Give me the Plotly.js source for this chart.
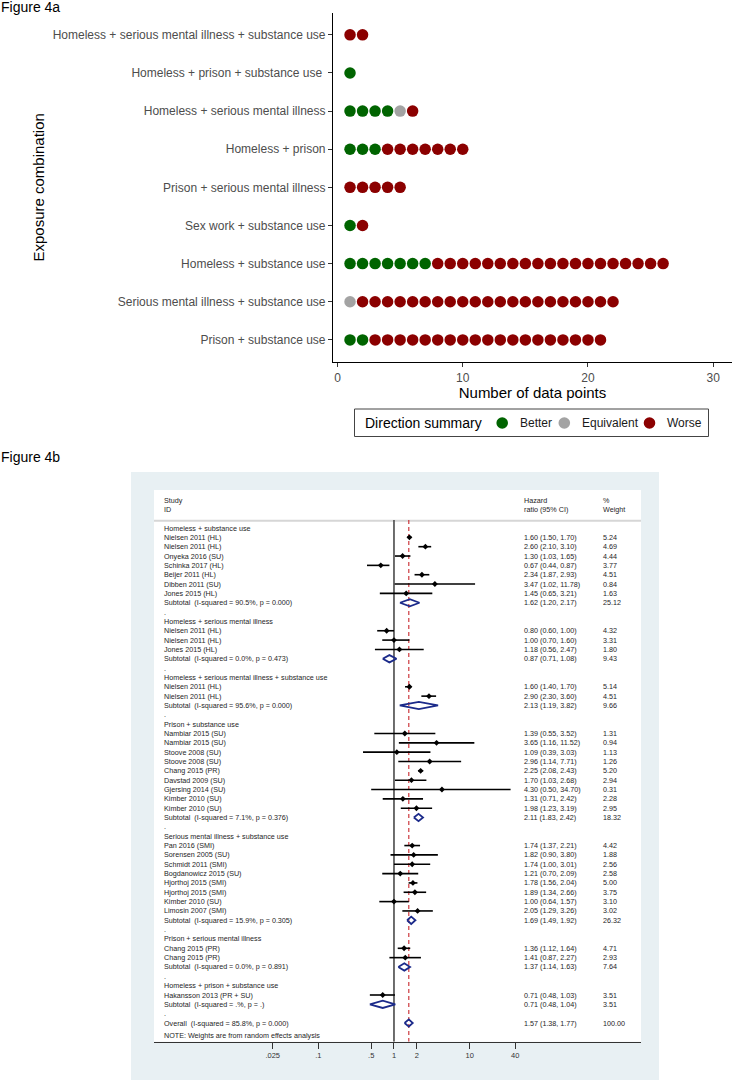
<!DOCTYPE html>
<html><head><meta charset="utf-8">
<script src="https://cdn.plot.ly/plotly-3.0.1.min.js"></script>
<style>html,body{margin:0;padding:0;background:#fff;} #chart{width:732px;height:1084px;}</style>
</head><body><div id="chart"></div>
<script>
// ---------- Figure 4a data ----------
const exposureCombos = [
  'Prison + substance use',
  'Serious mental illness + substance use',
  'Homeless + substance use',
  'Sex work + substance use',
  'Prison + serious mental illness',
  'Homeless + prison',
  'Homeless + serious mental illness',
  'Homeless + prison + substance use\u00a0',
  'Homeless + serious mental illness + substance use'
];
const betterCounts     = [2, 0, 7, 1, 0, 3, 4, 1, 0];
const equivalentCounts = [0, 1, 0, 0, 0, 0, 1, 0, 0];
const worseCounts      = [19, 21, 19, 1, 5, 7, 1, 0, 2];
const directionNames   = ['Better', 'Equivalent', 'Worse'];
const directionColors  = ['#006400', '#a3a3a3', '#8b0000'];
const xTickVals4a      = [0, 10, 20, 30];

// ---------- Figure 4b data ----------
const rowLabel = [
  'Homeless + substance use',
  'Nielsen 2011 (HL)', 'Nielsen 2011 (HL)', 'Onyeka 2016 (SU)', 'Schinka 2017 (HL)',
  'Beijer 2011 (HL)', 'Dibben 2011 (SU)', 'Jones 2015 (HL)',
  'Subtotal\u00a0 (I-squared = 90.5%, p = 0.000)', '.',
  'Homeless + serious mental illness',
  'Nielsen 2011 (HL)', 'Nielsen 2011 (HL)', 'Jones 2015 (HL)',
  'Subtotal\u00a0 (I-squared = 0.0%, p = 0.473)', '.',
  'Homeless + serious mental illness + substance use',
  'Nielsen 2011 (HL)', 'Nielsen 2011 (HL)',
  'Subtotal\u00a0 (I-squared = 95.6%, p = 0.000)', '.',
  'Prison + substance use',
  'Nambiar 2015 (SU)', 'Nambiar 2015 (SU)', 'Stoove 2008 (SU)', 'Stoove 2008 (SU)',
  'Chang 2015 (PR)', 'Davstad 2009 (SU)', 'Gjersing 2014 (SU)', 'Kimber 2010 (SU)', 'Kimber 2010 (SU)',
  'Subtotal\u00a0 (I-squared = 7.1%, p = 0.376)', '.',
  'Serious mental illness + substance use',
  'Pan 2016 (SMI)', 'Sorensen 2005 (SU)', 'Schmidt 2011 (SMI)', 'Bogdanowicz 2015 (SU)',
  'Hjorthoj 2015 (SMI)', 'Hjorthoj 2015 (SMI)', 'Kimber 2010 (SU)', 'Limosin 2007 (SMI)',
  'Subtotal\u00a0 (I-squared = 15.9%, p = 0.305)', '.',
  'Prison + serious mental illness',
  'Chang 2015 (PR)', 'Chang 2015 (PR)',
  'Subtotal\u00a0 (I-squared = 0.0%, p = 0.891)', '.',
  'Homeless + prison + substance use',
  'Hakansson 2013 (PR + SU)',
  'Subtotal\u00a0 (I-squared = .%, p = .)', '.',
  'Overall\u00a0 (I-squared = 85.8%, p = 0.000)',
  'NOTE: Weights are from random effects analysis'
];
// g = group heading, s = study, t = subtotal, d = separator, o = overall, n = note
const rowKind = [
  'g','s','s','s','s','s','s','s','t','d',
  'g','s','s','s','t','d',
  'g','s','s','t','d',
  'g','s','s','s','s','s','s','s','s','s','t','d',
  'g','s','s','s','s','s','s','s','s','t','d',
  'g','s','s','t','d',
  'g','s','t','d',
  'o','n'
];
const rowHR = [
  null, 1.60, 2.60, 1.30, 0.67, 2.34, 3.47, 1.45, 1.62, null,
  null, 0.80, 1.00, 1.18, 0.87, null,
  null, 1.60, 2.90, 2.13, null,
  null, 1.39, 3.65, 1.09, 2.96, 2.25, 1.70, 4.30, 1.31, 1.98, 2.11, null,
  null, 1.74, 1.82, 1.74, 1.21, 1.78, 1.89, 1.00, 2.05, 1.69, null,
  null, 1.36, 1.41, 1.37, null,
  null, 0.71, 0.71, null,
  1.57, null
];
const rowLo = [
  null, 1.50, 2.10, 1.03, 0.44, 1.87, 1.02, 0.65, 1.20, null,
  null, 0.60, 0.70, 0.56, 0.71, null,
  null, 1.40, 2.30, 1.19, null,
  null, 0.55, 1.16, 0.39, 1.14, 2.08, 1.03, 0.50, 0.71, 1.23, 1.83, null,
  null, 1.37, 0.90, 1.00, 0.70, 1.56, 1.34, 0.64, 1.29, 1.49, null,
  null, 1.12, 0.87, 1.14, null,
  null, 0.48, 0.48, null,
  1.38, null
];
const rowHi = [
  null, 1.70, 3.10, 1.65, 0.87, 2.93, 11.78, 3.21, 2.17, null,
  null, 1.00, 1.60, 2.47, 1.08, null,
  null, 1.70, 3.60, 3.82, null,
  null, 3.52, 11.52, 3.03, 7.71, 2.43, 2.68, 34.70, 2.42, 3.19, 2.42, null,
  null, 2.21, 3.80, 3.01, 2.09, 2.04, 2.66, 1.57, 3.26, 1.92, null,
  null, 1.64, 2.27, 1.63, null,
  null, 1.03, 1.04, null,
  1.77, null
];
const rowWeight = [
  null, 5.24, 4.69, 4.44, 3.77, 4.51, 0.84, 1.63, 25.12, null,
  null, 4.32, 3.31, 1.80, 9.43, null,
  null, 5.14, 4.51, 9.66, null,
  null, 1.31, 0.94, 1.13, 1.26, 5.20, 2.94, 0.31, 2.28, 2.95, 18.32, null,
  null, 4.42, 1.88, 2.56, 2.58, 5.00, 3.75, 3.10, 3.02, 26.32, null,
  null, 4.71, 2.93, 7.64, null,
  null, 3.51, 3.51, null,
  100.00, null
];
const hrTickVals   = [0.025, 0.1, 0.5, 1, 2, 10, 40];
const hrTickLabels = ['.025', '.1', '.5', '1', '2', '10', '40'];

// ---------- helpers (layout in pixels) ----------
const W = 732, H = 1084;
const px = v => v / W;
const py = v => 1 - v / H;
const FONT = 'Liberation Sans, Arial, Helvetica, sans-serif';

// ---------- Figure 4a traces ----------
const countSets = [betterCounts, equivalentCounts, worseCounts];
const traces = [];
directionNames.forEach((name, d) => {
  const xs = [], ys = [];
  exposureCombos.forEach((cat, i) => {
    let start = 0;
    for (let k = 0; k < d; k++) start += countSets[k][i];
    for (let j = 1; j <= countSets[d][i]; j++) { xs.push(start + j); ys.push(cat); }
  });
  traces.push({
    type: 'scatter', mode: 'markers', name: name, x: xs, y: ys,
    xaxis: 'x', yaxis: 'y', showlegend: false, hoverinfo: 'skip',
    marker: { size: 11.5, color: directionColors[d], line: { width: 0 } }
  });
});

// ---------- Figure 4b traces ----------
const rowY = rowKind.map((k, i) => (k === 'n' ? i + 1.35 : i + 1));
const overallIdx = rowKind.indexOf('o');
const overallHR = rowHR[overallIdx];
const topRow = 0.15, bottomRow = 56.0;

traces.push({ type: 'scatter', mode: 'lines', x: [1, 1], y: [topRow, bottomRow],
  xaxis: 'x2', yaxis: 'y2', showlegend: false, hoverinfo: 'skip',
  line: { color: '#4a4a4a', width: 1.6 } });
traces.push({ type: 'scatter', mode: 'lines', x: [overallHR, overallHR], y: [topRow, bottomRow],
  xaxis: 'x2', yaxis: 'y2', showlegend: false, hoverinfo: 'skip',
  line: { color: '#c8282d', width: 1.1, dash: '4px,3px' } });

const ciX = [], ciY = [], ptX = [], ptY = [], dmX = [], dmY = [];
const dh = 0.39;
rowKind.forEach((k, i) => {
  const y = rowY[i];
  if (k === 's') {
    ciX.push(rowLo[i], rowHi[i], null); ciY.push(y, y, null);
    ptX.push(rowHR[i]); ptY.push(y);
  } else if (k === 't' || k === 'o') {
    dmX.push(rowLo[i], rowHR[i], rowHi[i], rowHR[i], rowLo[i], null);
    dmY.push(y, y - dh, y, y + dh, y, null);
  }
});
traces.push({ type: 'scatter', mode: 'lines', x: ciX, y: ciY, xaxis: 'x2', yaxis: 'y2',
  showlegend: false, hoverinfo: 'skip', connectgaps: false, line: { color: '#000', width: 1.6 } });
traces.push({ type: 'scatter', mode: 'markers', x: ptX, y: ptY, xaxis: 'x2', yaxis: 'y2',
  showlegend: false, hoverinfo: 'skip', marker: { symbol: 'diamond', size: 4.5, color: '#000' } });
traces.push({ type: 'scatter', mode: 'lines', x: dmX, y: dmY, xaxis: 'x2', yaxis: 'y2',
  showlegend: false, hoverinfo: 'skip', connectgaps: false, line: { color: '#1b2a8a', width: 1.8 } });

// ---------- annotations ----------
const annotations = [];
function paperText(text, x, y, size, color, extra) {
  annotations.push(Object.assign({ text: text, x: px(x), y: py(y), xref: 'paper', yref: 'paper',
    xanchor: 'left', yanchor: 'middle', showarrow: false, borderpad: 0,
    font: { family: FONT, size: size, color: color } }, extra || {}));
}
function rowText(text, x, y) {
  annotations.push({ text: text, x: px(x), y: y, xref: 'paper', yref: 'y2',
    xanchor: 'left', yanchor: 'middle', showarrow: false, borderpad: 0,
    font: { family: FONT, size: 7.2, color: '#1e1e1e' } });
}
paperText('Figure 4a', 0, 7, 14, '#000');
paperText('Figure 4b', 0, 457, 14, '#000');

// legend (manual, ggplot style)
const legendY = 423;
paperText('Direction summary', 363.5, legendY, 14, '#000');
const legendTextX = [518.7, 580.8, 666];
directionNames.forEach((n, d) => paperText(n, legendTextX[d], legendY, 12, '#1a1a1a'));

// forest table text
const colStudy = 162.7, colHR = 523.3, colWt = 602;
rowText('Study', colStudy, -1.97); rowText('ID', colStudy, -0.93);
rowText('Hazard', colHR, -1.97); rowText('ratio (95% CI)', colHR, -0.93);
rowText('%', colWt, -1.97); rowText('Weight', colWt, -0.93);
rowKind.forEach((k, i) => {
  rowText(rowLabel[i], colStudy, rowY[i]);
  if (rowHR[i] !== null) {
    rowText(rowHR[i].toFixed(2) + ' (' + rowLo[i].toFixed(2) + ', ' + rowHi[i].toFixed(2) + ')', colHR, rowY[i]);
    rowText(rowWeight[i].toFixed(2), colWt, rowY[i]);
  }
});

// ---------- shapes ----------
const shapes = [
  { type: 'rect', xref: 'paper', yref: 'paper', x0: px(131), x1: px(659), y0: py(1080), y1: py(472),
    fillcolor: '#e8f0f3', line: { width: 0 }, layer: 'below' },
  { type: 'rect', xref: 'paper', yref: 'paper', x0: px(154), x1: px(641), y0: py(1041.7), y1: py(490),
    fillcolor: '#ffffff', line: { width: 0 }, layer: 'below' },
  { type: 'line', xref: 'paper', yref: 'paper', x0: px(154), x1: px(641), y0: py(520.7), y1: py(520.7),
    line: { color: '#d6d6d6', width: 2 }, layer: 'below' },
  { type: 'rect', xref: 'paper', yref: 'paper', x0: px(354.5), x1: px(708.5), y0: py(436.5), y1: py(409),
    fillcolor: 'rgba(0,0,0,0)', line: { color: '#444', width: 1 } }
];
const legendDotX = [502.2, 564.3, 649.5];
const rDot = 5.8;
directionColors.forEach((c, d) => shapes.push({ type: 'circle', xref: 'paper', yref: 'paper',
  x0: px(legendDotX[d] - rDot), x1: px(legendDotX[d] + rDot), y0: py(legendY + rDot), y1: py(legendY - rDot),
  fillcolor: c, line: { width: 0 } }));

// ---------- layout ----------
const layout = {
  width: W, height: H, margin: { l: 0, r: 0, t: 0, b: 0 },
  paper_bgcolor: '#fff', plot_bgcolor: 'rgba(0,0,0,0)',
  font: { family: FONT, color: '#000' },
  showlegend: false,
  xaxis: {
    domain: [px(333), 1], anchor: 'y', range: [-0.36, 31.5],
    tickvals: xTickVals4a, ticks: 'outside', ticklen: 4, tickcolor: '#333', tickwidth: 1,
    showline: true, linecolor: '#000', linewidth: 1.1, showgrid: false, zeroline: false,
    tickfont: { family: FONT, size: 12, color: '#4d4d4d' },
    title: { text: 'Number of data points', font: { family: FONT, size: 15, color: '#000' }, standoff: 0 },
    automargin: false, fixedrange: true
  },
  yaxis: {
    domain: [py(362), py(12.7)], anchor: 'x', type: 'category',
    categoryorder: 'array', categoryarray: exposureCombos, range: [-0.58, 8.58],
    ticks: 'outside', ticklen: 4, tickcolor: '#333', tickwidth: 1,
    showline: true, linecolor: '#000', linewidth: 1.1, showgrid: false, zeroline: false,
    tickfont: { family: FONT, size: 12, color: '#4d4d4d' },
    title: { text: 'Exposure combination', font: { family: FONT, size: 15, color: '#000' }, standoff: 4 },
    automargin: false, fixedrange: true
  },
  xaxis2: {
    type: 'log', domain: [px(154), px(641)], anchor: 'y2', range: [-3.170, 3.263],
    tickvals: hrTickVals, ticktext: hrTickLabels, ticks: 'outside', ticklen: 6, tickcolor: '#333', tickwidth: 1,
    showline: true, linecolor: '#333', linewidth: 1.3, showgrid: false, zeroline: false,
    tickfont: { family: FONT, size: 7.5, color: '#333' }, automargin: false, fixedrange: true
  },
  yaxis2: {
    domain: [py(1041.7), py(490)], anchor: 'x2', range: [bottomRow, -3.07],
    visible: false, showgrid: false, zeroline: false, automargin: false, fixedrange: true
  },
  shapes: shapes,
  annotations: annotations
};

Plotly.newPlot('chart', traces, layout, { displayModeBar: false, staticPlot: true });
</script>
</body></html>
